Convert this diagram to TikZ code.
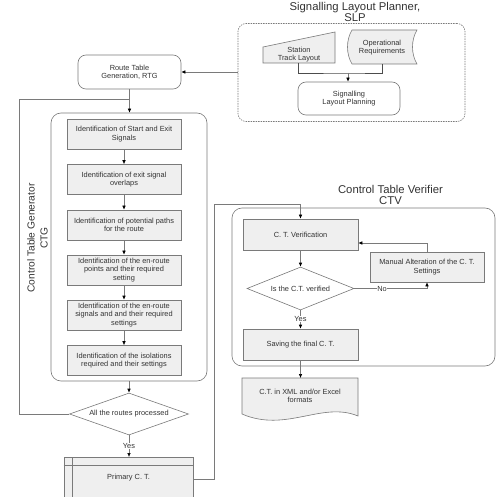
\documentclass[tikz,border=0pt]{standalone}
\usepackage{fontspec}
\setmainfont{Liberation Sans}
\usetikzlibrary{arrows.meta,shapes.geometric}
\definecolor{ln}{HTML}{7A7A7A}
\definecolor{fl}{HTML}{EFEFEF}
\definecolor{tx}{HTML}{333333}
\begin{document}
\begin{tikzpicture}[x=1pt,y=-1pt,
  every node/.style={text=tx, font=\fontsize{7.4}{8.4}\selectfont, align=center, inner sep=0pt},
  line/.style={draw=ln, line width=0.6pt},
  arr/.style={line, -{Latex[length=4pt,width=3.6pt,color=black]}},
  gbox/.style={line, fill=fl, minimum width=114pt, minimum height=30pt},
  rbox/.style={line, rounded corners=8pt},
  dia/.style={line, fill=white, diamond, aspect=2.8},
  title/.style={font=\fontsize{11.3}{10}\selectfont},
  ctitle/.style={font=\fontsize{11.3}{11}\selectfont},
  lab/.style={fill=white, inner sep=0.6pt}
]
\clip (0,0) rectangle (498,497);
\fill[white] (0,0) rectangle (498,497);

% ---------- SLP ----------
\node[title] (slpt) at (355,12) {Signalling Layout Planner,\\SLP};
\node[rbox, dash pattern=on 1.5pt off 1pt, minimum width=227pt, minimum height=98pt] (slp) at (351.5,72.5) {};
\draw[line, fill=fl] (263,47) -- (335,32) -- (335,63) -- (263,63) -- cycle;
\node (stn) at (299,54.5) {Station\\Track Layout};
\draw[line, fill=fl] (352,30) -- (417,30) .. controls (411,40) and (411,54) .. (417,64)
  -- (352,64) .. controls (346,54) and (346,40) .. (352,30) -- cycle;
\node (opr) at (382,47.5) {Operational\\Requirements};
\node[rbox, minimum width=102pt, minimum height=33pt] (plan) at (349,98.5) {Signalling\\Layout Planning};
\coordinate (stnb) at (298,63);
\coordinate (oprb) at (382,64);
\coordinate (mrg) at (348,73);
\draw[line, draw=black!70] (stnb) |- (mrg) -| (oprb);
\draw[arr] (mrg) -- (mrg |- plan.north);

% ---------- RTG ----------
\node[rbox, minimum width=103pt, minimum height=34pt] (rtg) at (129.5,72) {Route Table\\Generation, RTG};
\draw[arr] (slp.west |- rtg.east) -- (rtg.east);

% ---------- CTG ----------
\node[line, rounded corners=10pt, minimum width=156pt, minimum height=268pt] (ctg) at (129,247) {};
\node[rotate=90, font=\fontsize{10.2}{13}\selectfont] (ctgl) at (37.5,238) {Control Table Generator\\CTG};
\draw[arr] (rtg.south) -- (rtg.south |- ctg.north);

\node[gbox] (b1) at (124,134) {Identification of Start and Exit\\Signals};
\node[gbox] (b2) at (124,179.5) {Identification of exit signal\\overlaps};
\node[gbox] (b3) at (124,225) {Identification of potential paths\\for the route};
\node[gbox] (b4) at (124,270) {Identification of the en-route\\points and their required\\setting};
\node[gbox] (b5) at (124,315) {Identification of the en-route\\signals and and their required\\settings};
\node[gbox] (b6) at (124,360.5) {Identification of the isolations\\required and their settings};
\draw[arr] (b1) -- (b2);
\draw[arr] (b2) -- (b3);
\draw[arr] (b3) -- (b4);
\draw[arr] (b4) -- (b5);
\draw[arr] (b5) -- (b6);

\node[dia, minimum width=119pt, minimum height=42pt] (d1) at (129,414) {All the routes processed};
\draw[arr] (ctg.south) -- (d1.north);
\coordinate (fb1) at (19,414);
\coordinate (fb2) at (19,99);
\draw[line] (d1.west) -- (fb1) -- (fb2) -- (rtg.south |- fb2);

\node[line, fill=fl, minimum width=129pt, minimum height=60pt, anchor=north] (prim) at (128.5,457) {};
\draw[line] ([yshift=-8pt]prim.north west) -- ([yshift=-8pt]prim.north east);
\draw[line] ([xshift=9pt]prim.north west) -- ([xshift=9pt]prim.south west);
\node (primt) at (128.5,478) {Primary C. T.};
\draw[arr] (d1.south) -- (d1.south |- prim.north);
\node[lab] (y1) at (129,446) {Yes};

% ---------- CTV ----------
\node[ctitle] (ctvt) at (390.5,195.4) {Control Table Verifier\\CTV};
\node[line, rounded corners=10pt, minimum width=263pt, minimum height=158pt] (ctv) at (363.5,287) {};
\node[gbox, minimum width=115pt, minimum height=31pt] (ver) at (300.5,234.5) {C. T. Verification};
\node[gbox] (man) at (427,267) {Manual Alteration of the C. T.\\Settings};
\node[dia, minimum width=107pt, minimum height=43pt] (d2) at (300.5,288.5) {Is the C.T. verified};
\node[gbox, minimum width=115pt, minimum height=31pt] (save) at (300.5,344.5) {Saving the final C. T.};

\coordinate (pout) at (193,479);
\coordinate (c1) at (214,479);
\coordinate (c2) at (214,204);
\draw[arr] (pout) -- (c1) -- (c2) -- (ver.north |- c2) -- (ver.north);

\draw[arr] (ver.south) -- (d2.north);
\draw[arr] (d2.east) -- (man.south |- d2.east) -- (man.south);
\node[lab] (no) at (382,288.5) {No};
\coordinate (mtop) at (427,243);
\draw[arr] (man.north) -- (mtop) -- (ver.east |- mtop);
\draw[arr] (d2.south) -- (save.north);
\node[lab] (y2) at (300.5,319) {Yes};

\draw[line, fill=fl] (242,378) -- (358,378) -- (358,416)
  .. controls (322,401) and (286,433) .. (242,414) -- cycle;
\node (doc) at (300,396) {C.T. in XML and/or Excel\\formats};
\draw[arr] (save.south) -- (save.south |- 0,378);
\end{tikzpicture}
\end{document}
